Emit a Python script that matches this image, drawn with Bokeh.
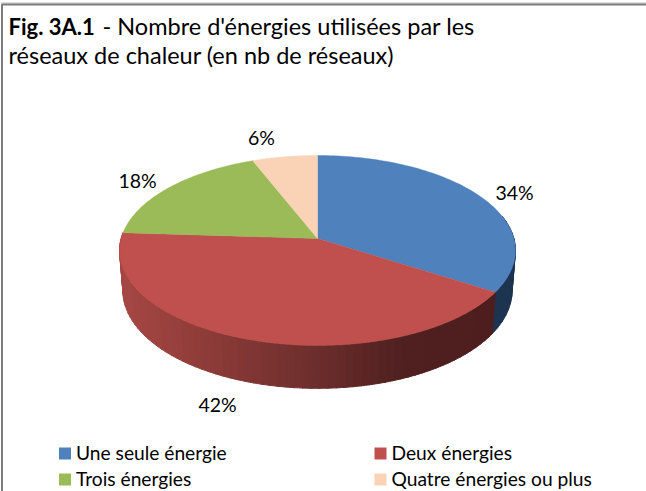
import numpy as np
from bokeh.plotting import figure
from bokeh.models import Range1d, Label
from bokeh.embed import file_html
from bokeh.resources import INLINE

categories = ["Une seule énergie", "Deux énergies", "Trois énergies", "Quatre énergies ou plus"]
shares = [34, 42, 18, 6]
labels = ["34%", "42%", "18%", "6%"]
top_colors = ["#4f81bd", "#c0504d", "#9bbb59", "#fad3b6"]
title_bold = "Fig. 3A.1"
title_rest = "- Nombre d'énergies utilisées par les"
title_line2 = "réseaux de chaleur (en nb de réseaux)"

W, H = 646, 491
CX, CY, A, B, K = 317.0, 238.0, 196.4, 93.5, 0.126
CY2, A2, B2 = 278.0, 193.0, 96.0
FONT = "Lato"

p = figure(width=W, height=H, x_range=Range1d(0, W), y_range=Range1d(H, 0),
           output_backend="svg", toolbar_location=None, min_border=0,
           x_axis_type="linear", outline_line_color=None)
p.axis.visible = False
p.grid.visible = False
p.background_fill_color = "white"
p.border_fill_color = "white"


def rim(a, cy, aa, bb):
    u, v = np.sin(a), np.cos(a)
    d = 1 + K * v
    return CX + aa * u / d, cy - bb * v / d


edges = np.cumsum([0] + shares) / sum(shares) * 2 * np.pi

# side wall: blue piece then red piece, as thin shaded strips
blue_side = (28, 52, 80)
red_stops = [(120, (166, 71, 68)), (200, (143, 60, 57)), (300, (112, 48, 46)),
             (400, (80, 32, 32)), (495, (78, 30, 30))]
xs, ys, cols = [], [], []
for i in (0, 1):
    lo = edges[i] if i == 1 else np.pi / 2 - 0.25
    hi = edges[i + 1]
    grid = np.linspace(lo, hi, 70 if i == 1 else 14)
    for a0, a1 in zip(grid[:-1], grid[1:]):
        aa = np.linspace(a0, a1 + 0.004, 3)
        x1, y1 = rim(aa, CY, A, B)
        x2, y2 = rim(aa[::-1], CY2, A2, B2)
        xs.append(np.r_[x1, x2].tolist())
        ys.append(np.r_[y1, y2].tolist())
        if i == 0:
            cols.append("#%02x%02x%02x" % blue_side)
        else:
            xm = x1.mean()
            xp = [s[0] for s in red_stops]
            rgb = [np.interp(xm, xp, [s[1][k] for s in red_stops]) for k in range(3)]
            cols.append("#%02x%02x%02x" % tuple(int(round(q)) for q in rgb))
p.patches(xs, ys, fill_color=cols, line_color=cols, line_width=1)

# top face
for i, col in enumerate(top_colors):
    aa = np.linspace(edges[i], edges[i + 1], 90)
    x, y = rim(aa, CY, A, B)
    p.patch(np.r_[CX, x], np.r_[CY, y], fill_color=col, line_color=col, line_width=0.4)

# frame
p.line([0, W], [2.5, 2.5], line_color="#bcbcbc", line_width=1)
p.line([1.5, 1.5, W], [H, 4, 4], line_color="#7d7d7d", line_width=2)


def txt(x, y, s, size, style="normal", align="left"):
    # the y given is the wanted baseline; the label renders lower by ~0.37 em
    p.add_layout(Label(x=x, y=y - 0.37 * size, text=s, text_font=FONT,
                       text_font_size=f"{size}px",
                       text_font_style=style, text_color="#000000",
                       text_align=align, text_baseline="alphabetic"))


txt(8, 34, title_bold, 22, "bold")
txt(102, 34, title_rest, 23.5)
txt(8, 63, title_line2, 23.5)

label_pos = [(514, 199), (217, 411), (137, 187), (261, 144)]
for (x, y), s in zip(label_pos, labels):
    txt(x, y, s, 19.5, align="center")

leg_pos = [(58.5, 459), (374, 459), (58.5, 485), (374, 485)]
for (x, y), s, c in zip(leg_pos, categories, top_colors):
    p.scatter([x + 6], [y - 6], marker="square", size=12, fill_color=c, line_color=None)
    txt(x + 17, y, s, 19.2)

open("out.html", "w").write(file_html(p, INLINE))
